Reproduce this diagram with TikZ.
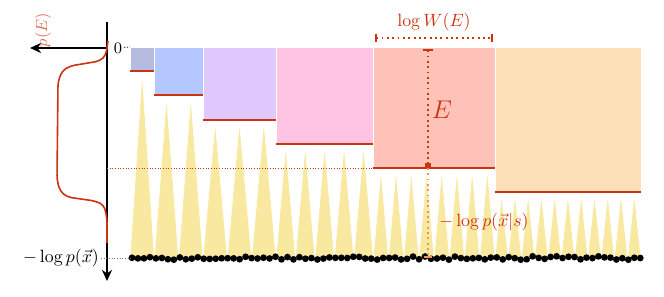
\documentclass[tikz,border=0pt]{standalone}
\usepackage{amsmath,amssymb}
\usepackage{tikz}
\usetikzlibrary{arrows.meta,positioning,calc}
\definecolor{accent}{RGB}{204,51,17}
\definecolor{tailred}{RGB}{232,150,96}
\definecolor{spikefill}{RGB}{249,233,160}
\definecolor{lvlA}{RGB}{181,188,224}
\definecolor{lvlB}{RGB}{180,199,255}
\definecolor{lvlC}{RGB}{223,201,255}
\definecolor{lvlD}{RGB}{255,196,227}
\definecolor{lvlE}{RGB}{255,194,184}
\definecolor{lvlF}{RGB}{253,224,183}

\begin{document}
\begin{tikzpicture}[
  x=0.5617pt, y=-0.5617pt,
  levelbox/.style={draw=white, line width=0.4pt},
  floor/.style={accent, line width=1.2pt},
  spike/.style={fill=spikefill, draw=white, line width=0.3pt},
  dot/.style={circle, fill=black, inner sep=0pt, minimum size=3.8pt},
  axis/.style={-{Stealth[length=2.2mm, width=2mm]}, line width=1.1pt},
  guide/.style={densely dotted, line width=0.5pt},
  span/.style={accent, dotted, line width=1pt},
  lbl/.style={text=accent, inner sep=1pt}
]
\useasboundingbox (0,0) rectangle (664,297);

% energy levels with their spikes
\foreach \k/\n/\col in {1/1/lvlA, 2/2/lvlB, 3/3/lvlC, 4/5/lvlD, 5/8/lvlE, 6/11/lvlF} {
  \pgfmathsetmacro\xa{130+24.33*\k*(\k-1)/2}
  \pgfmathsetmacro\xb{\xa+24.33*\k}
  \pgfmathsetmacro\yb{47+24.2*\k}
  \pgfmathsetmacro\w{(\xb-\xa)/\n}
  \filldraw[levelbox, fill=\col] (\xa,47) rectangle (\xb,\yb);
  \foreach \i in {1,...,\n}
    \filldraw[spike] ({\xa+(\i-1)*\w},258) -- ({\xa+(\i-0.5)*\w},\yb+2.5) -- ({\xa+\i*\w},258) -- cycle;
}
\foreach \k in {1,...,6} {
  \pgfmathsetmacro\xa{130+24.33*\k*(\k-1)/2}
  \pgfmathsetmacro\xb{\xa+24.33*\k}
  \pgfmathsetmacro\yb{47+24.2*\k}
  \draw[floor] (\xa,\yb) -- (\xb,\yb);
}

% samples
\pgfmathsetseed{7}
\foreach \j in {0,...,85} {
  \pgfmathsetmacro\dy{258+1.7*rand}
  \node[dot] (d\j) at ({132+\j*5.98},\dy) {};
}

% axes and p(E)
\coordinate (vtop) at (107,22);
\coordinate (vbot) at (107,281);
\coordinate (origin) at (107,48);
\coordinate (hend) at (30,48);
\draw[axis] (vtop) -- (vbot);
\draw[axis] (origin) -- (hend);
\draw[accent, line width=0.9pt, rounded corners=2.5pt]
  (108,41) -- (106,55) -- (100,61) -- (70,66) -- (62,71) -- (58,82) -- (57,180)
  -- (60,191) -- (67,197) -- (95,201) -- (104,205) -- (107,218) -- (107,243);
\node[rotate=90, text=accent!70, font=\small] (pElbl) at (43,30) {$p(E)$};

\node[font=\small, inner sep=1pt] (zerolbl) at (118,48) {$0$};
\coordinate (zeroend) at (130,47);
\draw[guide] (zerolbl) -- (zeroend);

\node[anchor=east, inner sep=1pt] (pxlbl) at (101,258) {$-\log p(\vec{x})$};
\coordinate (pxend) at (131,258);
\draw[guide, black!55] (pxlbl) -- (pxend);

\coordinate (Eleft) at (107,168);
\coordinate (Eright) at (373,168);
\draw[guide, accent] (Eleft) -- (Eright);

% width and depth of the level E
\coordinate (wl) at (375,38);
\coordinate (wr) at (493,38);
\draw[span, {Bar[width=4.5pt]}-{Bar[width=4.5pt]}] (wl) -- (wr);
\node[lbl, above=3pt of $(wl)!0.5!(wr)$] (wlbl) {$\log W(E)$};

\coordinate (etop) at (428,49);
\coordinate (emid) at (428,168);
\coordinate (ebot) at (428,258);
\draw[span, {Bar[width=6pt]}-{Square[length=3pt, width=3.5pt]}] (etop) -- (emid);
\draw[tailred, dotted, line width=1pt, -{Bar[width=4pt]}] (emid) -- (ebot);
\node[lbl, font=\Large] (elbl) at (442,110) {$E$};
\node[lbl] (pxslbl) at (484,222) {$-\log p(\vec{x}|s)$};

\end{tikzpicture}
\end{document}
